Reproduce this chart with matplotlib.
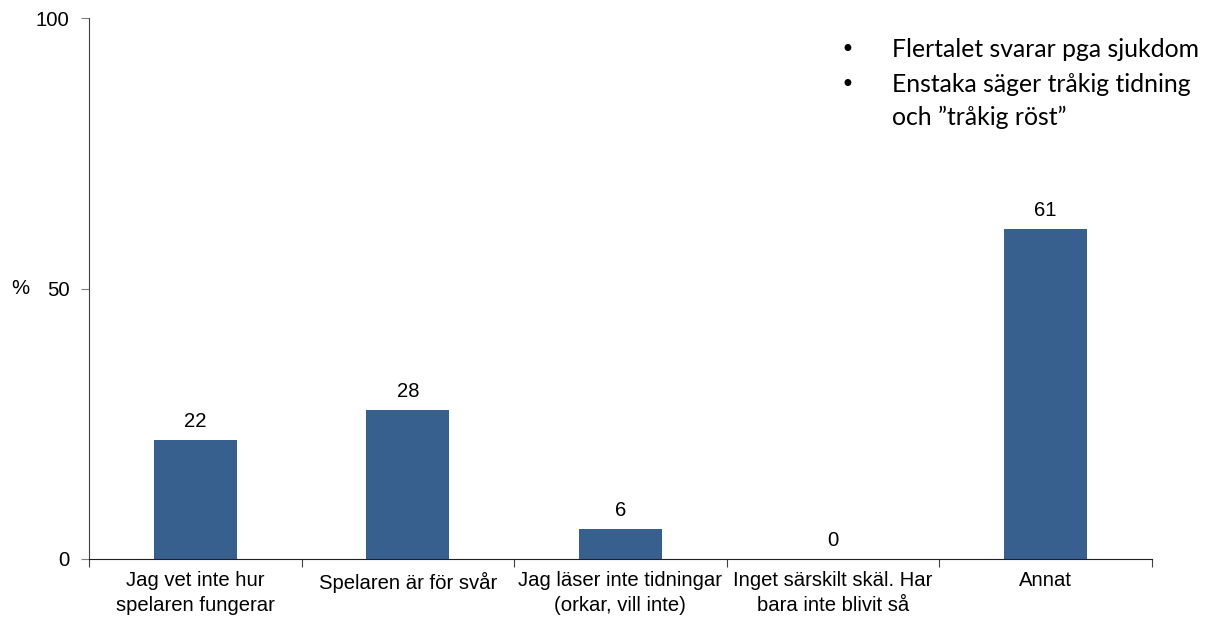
import numpy as np
import matplotlib.pyplot as plt

plt.rcParams['font.family'] = ['Liberation Sans', 'DejaVu Sans']

categories = ["Jag vet inte hur\nspelaren fungerar",
              "Spelaren är för svår",
              "Jag läser inte tidningar\n(orkar, vill inte)",
              "Inget särskilt skäl. Har\nbara inte blivit så",
              "Annat"]
values = [22, 27.5, 5.5, 0, 61]
notes = ["Flertalet svarar pga sjukdom",
         "Enstaka säger tråkig tidning",
         "och \u201dtråkig röst\u201d"]
bullets = [True, True, False]

fs = 14.6

fig = plt.figure(figsize=(12.11, 6.22), dpi=100)
ax = fig.add_axes([0.0735, 0.1013, 0.8775, 0.8697])

x = np.arange(len(categories))
ax.bar(x, values, width=0.39, color='#37608f', zorder=2)
for xi, v in zip(x, values):
    ax.text(xi, v + 1.75, "%.0f" % v, ha='center', va='bottom', fontsize=fs)

ax.set_xlim(-0.5, len(categories) - 0.5)
ax.set_ylim(0, 100)
ax.set_yticks([0, 50, 100])
ax.tick_params(axis='y', labelsize=fs, length=6, color='#808080', pad=8)

# ticks between categories, labels at the centres
ax.set_xticks(np.arange(len(categories) + 1) - 0.5)
ax.set_xticklabels([])
ax.set_xticks(x, minor=True)
ax.set_xticklabels(categories, minor=True, fontsize=fs, linespacing=1.38)
ax.tick_params(axis='x', which='major', length=6, color='#404040')
ax.tick_params(axis='x', which='minor', length=0, pad=9)

for s in ['top', 'right']:
    ax.spines[s].set_visible(False)
ax.spines['left'].set_color('#404040')
ax.spines['bottom'].set_color('#202020')

ax.set_ylabel('%', rotation=0, fontsize=fs, ha='center', va='center')
ax.yaxis.set_label_coords(-0.065, 0.5)

# comment box top right
nfs = 17.8
baselines = [57, 92, 125]
for txt, b, yb in zip(notes, bullets, baselines):
    if b:
        fig.text(847 / 1211, 1 - yb / 622, "\u2022", fontsize=17, va='baseline',
                 ha='center', family='DejaVu Sans')
    fig.text(892 / 1211, 1 - yb / 622, txt, fontsize=nfs, va='baseline', family='Lato')

fig.savefig('out.png', dpi=100)
